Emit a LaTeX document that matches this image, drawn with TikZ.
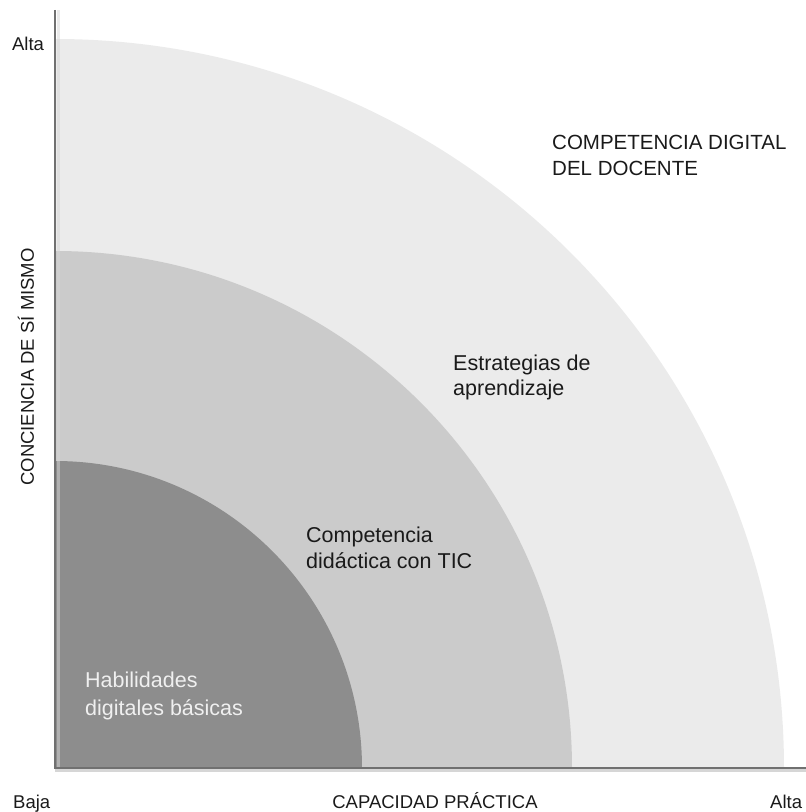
\documentclass[tikz,border=0pt]{standalone}
\usepackage{fontspec}
\setmainfont{Liberation Sans}
\definecolor{ringOuter}{HTML}{EBEBEB}
\definecolor{ringMid}{HTML}{CBCBCB}
\definecolor{ringCore}{HTML}{8D8D8D}
\definecolor{axisGray}{HTML}{707070}
\definecolor{shadowGray}{HTML}{D6D6D6}
\definecolor{txtDark}{HTML}{1A1A1A}
\begin{document}
\begin{tikzpicture}[x=1pt,y=1pt,
  axislabel/.style={inner sep=0pt, text=txtDark, font=\fontsize{18.5}{22}\selectfont},
  ringlabel/.style={inner sep=0pt, anchor=base west, text=txtDark},
  axisline/.style={draw=axisGray, line width=2pt},
  shadowline/.style={draw=shadowGray, line width=3pt}]
\useasboundingbox (0,0) rectangle (806,812);
\coordinate (O) at (55,44);
% quarter discs
\fill[ringOuter] (O) -- ++(729pt,0) arc[start angle=0,end angle=90,radius=729pt] -- cycle;
\fill[ringMid] (O) -- ++(517pt,0) arc[start angle=0,end angle=90,radius=517pt] -- cycle;
\fill[ringCore] (O) -- ++(307pt,0) arc[start angle=0,end angle=90,radius=307pt] -- cycle;
% axes
\coordinate (ytop) at (55,802);
\coordinate (xend) at (806,44);
\draw[shadowline] ([yshift=-3pt]O) -- ([yshift=-3pt]xend);
\draw[shadowline, draw opacity=0.5] ([xshift=3pt]O) -- ([xshift=3pt]ytop);
\draw[axisline] (ytop) -- (O) -- (xend);
% axis labels
\node[axislabel, anchor=center] (altaY) at (28,768) {Alta};
\node[axislabel, anchor=base west] (baja) at (13,4) {Baja};
\node[axislabel, anchor=base west] (altaX) at (770,4) {Alta};
\node[axislabel, anchor=base] (xtitle) at (435,4) {CAPACIDAD PRÁCTICA};
\node[axislabel, anchor=center, rotate=90] (ytitle) at (26,445) {CONCIENCIA DE SÍ MISMO};
% ring labels
\node[ringlabel, font=\fontsize{20.5}{26.7}\selectfont] (lblOuter) at (552,662.7)
  {\begin{tabular}[t]{@{}l@{}}COMPETENCIA DIGITAL\\DEL DOCENTE\end{tabular}};
\node[ringlabel, font=\fontsize{21.5}{25}\selectfont] (lblMid) at (453,441)
  {\begin{tabular}[t]{@{}l@{}}Estrategias de\\aprendizaje\end{tabular}};
\node[ringlabel, font=\fontsize{21.5}{25.5}\selectfont] (lblInner) at (306,269.3)
  {\begin{tabular}[t]{@{}l@{}}Competencia\\didáctica con TIC\end{tabular}};
\node[ringlabel, text=white!94!black, font=\fontsize{21.5}{27.7}\selectfont] (lblCore) at (85,124)
  {\begin{tabular}[t]{@{}l@{}}Habilidades\\digitales básicas\end{tabular}};
\end{tikzpicture}
\end{document}
